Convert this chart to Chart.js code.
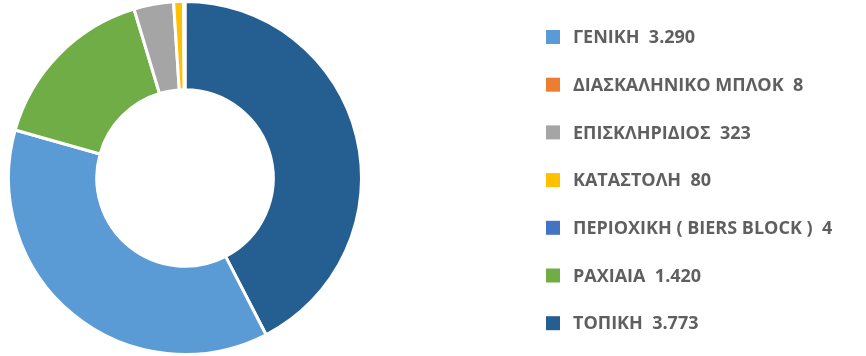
<!DOCTYPE html>
<html>
<head>
<meta charset="utf-8">
<script src="https://cdn.jsdelivr.net/npm/chart.js@4"></script>
<style>
  html, body { margin: 0; padding: 0; background: #fff; }
  #wrap { width: 866px; height: 356px; }
</style>
</head>
<body>
<div id="wrap"><canvas id="chart" width="866" height="356"></canvas></div>
<script>
// categories in legend order
const categories = [
  'ΓΕΝΙΚΗ',
  'ΔΙΑΣΚΑΛΗΝΙΚΟ ΜΠΛΟΚ',
  'ΕΠΙΣΚΛΗΡΙΔΙΟΣ',
  'ΚΑΤΑΣΤΟΛΗ',
  'ΠΕΡΙΟΧΙΚΗ ( BIERS BLOCK )',
  'ΡΑΧΙΑΙΑ',
  'ΤΟΠΙΚΗ'
];
const counts = [3290, 8, 323, 80, 4, 1420, 3773];
const colors = ['#5B9BD5', '#ED7D31', '#A5A5A5', '#FFC000', '#4472C4', '#70AD47', '#255E91'];

// greek style thousands separator: 3290 -> 3.290
const fmt = (n) => String(n).replace(/\B(?=(\d{3})+(?!\d))/g, '.');

// slices go clockwise from the top, largest first
const order = counts.map((v, i) => i).sort((a, b) => counts[b] - counts[a]);

const LEGEND_FONT = 'bold 18px "Open Sans", sans-serif';

const sideLegend = {
  id: 'sideLegend',
  afterDraw(chart) {
    const ctx = chart.ctx;
    const x0 = 546, y0 = 37, rowGap = 47.7, box = 14;
    ctx.save();
    ctx.font = LEGEND_FONT;
    ctx.textBaseline = 'middle';
    ctx.textAlign = 'left';
    categories.forEach((name, i) => {
      const y = y0 + i * rowGap;
      ctx.fillStyle = colors[i];
      ctx.fillRect(x0, y - box / 2, box, box);
      ctx.fillStyle = '#5f5f5f';
      ctx.fillText(name + '  ' + fmt(counts[i]), x0 + 27, y + 1);
    });
    ctx.restore();
  }
};

new Chart(document.getElementById('chart'), {
  type: 'doughnut',
  data: {
    labels: order.map(i => categories[i]),
    datasets: [{
      data: order.map(i => counts[i]),
      backgroundColor: order.map(i => colors[i]),
      borderColor: '#ffffff',
      borderWidth: 3
    }]
  },
  options: {
    responsive: false,
    animation: false,
    cutout: '50%',
    layout: { padding: { left: 7, right: 503, top: 0, bottom: 0 } },
    plugins: {
      legend: { display: false },
      tooltip: { enabled: false }
    }
  },
  plugins: [sideLegend]
});
</script>
</body>
</html>
